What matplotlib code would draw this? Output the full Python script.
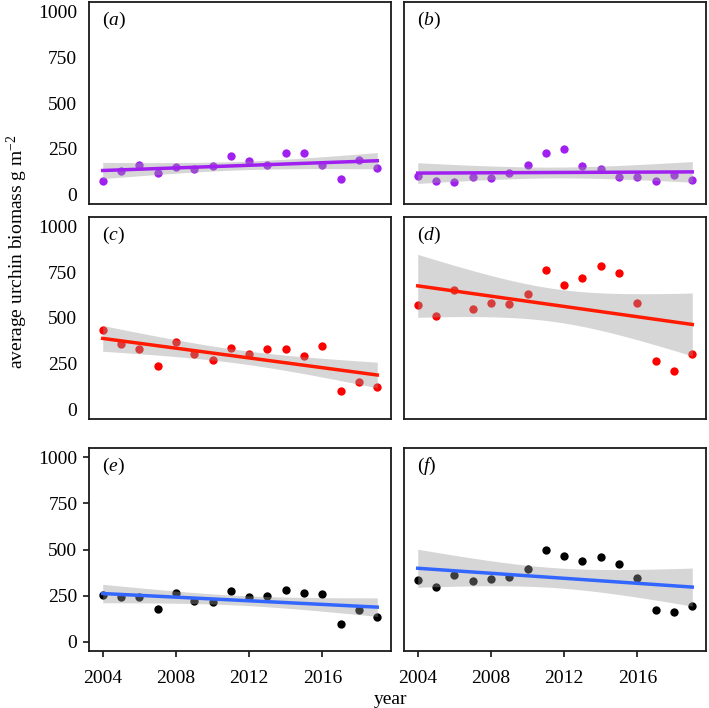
import matplotlib
matplotlib.use('Agg')
import matplotlib.pyplot as plt
import numpy as np

plt.rcParams['font.family'] = ['Liberation Serif', 'DejaVu Serif']
plt.rcParams['mathtext.fontset'] = 'custom'
plt.rcParams['mathtext.rm'] = 'Liberation Serif'
plt.rcParams['mathtext.it'] = 'Liberation Serif:italic'

years = np.arange(2004, 2020)

# values (g m^-2)
biomass_a = [74, 131, 165, 118, 152, 138, 156, 214, 183, 165, 230, 230, 165, 87, 191, 145]
biomass_b = [102, 74, 71, 96, 94, 118, 163, 229, 247, 156, 138, 96, 96, 74, 109, 82]
biomass_c = [432, 356, 329, 240, 367, 306, 271, 338, 306, 329, 333, 295, 345, 105, 152, 123]
biomass_d = [570, 510, 653, 548, 582, 577, 629, 763, 680, 720, 785, 747, 579, 264, 210, 302]
biomass_e = [255, 245, 245, 180, 264, 221, 213, 273, 245, 248, 282, 263, 257, 98, 170, 134]
biomass_f = [337, 295, 362, 327, 341, 350, 396, 496, 464, 437, 461, 423, 343, 170, 163, 193]

panels = ['a', 'b', 'c', 'd', 'e', 'f']
series = [biomass_a, biomass_b, biomass_c, biomass_d, biomass_e, biomass_f]
point_colors = ['#A020F0', '#A020F0', '#FF0000', '#FF0000', 'black', 'black']
line_colors = ['#A020F0', '#A020F0', '#FF1A00', '#FF1A00', '#3366FF', '#3366FF']

yticks = [0, 250, 500, 750, 1000]
xticks = [2004, 2008, 2012, 2016]

FS = 14
W, H = 709, 708
fig = plt.figure(figsize=(W / 100, H / 100), dpi=100)

# axes boxes in pixels: (left, right) per column, (top, bottom) per row
cols = [(89, 391), (404, 706)]
rows = [(2, 204), (217, 419), (448, 651)]

t975 = 2.145  # t quantile for n-2 = 14 df


def lm_band(x, y, xs):
    x = np.asarray(x, float)
    y = np.asarray(y, float)
    n = len(x)
    b, a = np.polyfit(x, y, 1)
    resid = y - (a + b * x)
    s = np.sqrt(np.sum(resid ** 2) / (n - 2))
    sxx = np.sum((x - x.mean()) ** 2)
    fit = a + b * xs
    se = s * np.sqrt(1 / n + (xs - x.mean()) ** 2 / sxx)
    return fit, fit - t975 * se, fit + t975 * se


for k in range(6):
    r, c = k // 2, k % 2
    l, rt = cols[c]
    t, bt = rows[r]
    ax = fig.add_axes([l / W, 1 - bt / H, (rt - l) / W, (bt - t) / H])

    ys = series[k]
    ax.scatter(years, ys, s=36, color=point_colors[k], linewidths=0, zorder=2)

    xs = np.linspace(years[0], years[-1], 100)
    fit, lo, hi = lm_band(years, ys, xs)
    ax.fill_between(xs, lo, hi, color='#999999', alpha=0.4, linewidth=0, zorder=3)
    ax.plot(xs, fit, color=line_colors[k], linewidth=2.5, zorder=4)

    ax.set_xlim(2003.25, 2019.75)
    ax.set_ylim(-50, 1050)
    ax.set_yticks(yticks)
    ax.set_xticks(xticks)

    for sp in ax.spines.values():
        sp.set_linewidth(1.3)
        sp.set_color('#1a1a1a')

    # y labels only on the left column
    if c == 0:
        if r == 2:
            ax.tick_params(axis='y', length=4.3, width=1.1, pad=4, labelsize=FS)
        else:
            ax.tick_params(axis='y', length=0, pad=8.6, labelsize=FS)
    else:
        ax.tick_params(axis='y', length=0, labelleft=False)

    # x labels only on the bottom row
    if r == 2:
        ax.tick_params(axis='x', length=4.3, width=1.1, pad=9.5, labelsize=FS)
    else:
        ax.tick_params(axis='x', length=0, labelbottom=False)

    ax.text(0.043, 0.91, r'$(\mathit{' + panels[k] + '})$', transform=ax.transAxes,
            fontsize=FS, ha='left', va='center')

fig.text(17 / W, 1 - 252 / H, r'average urchin biomass g m$^{-2}$', rotation=90,
         ha='center', va='center', fontsize=FS)
fig.text(391 / W, 1 - 699 / H, 'year', ha='center', va='center', fontsize=FS)

fig.savefig('out.png', dpi=100)
